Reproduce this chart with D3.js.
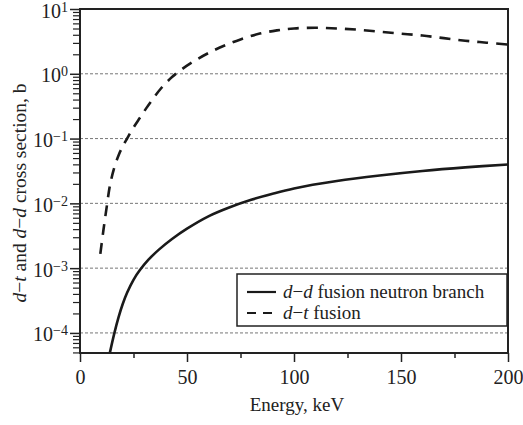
<!DOCTYPE html>
<html>
<head>
<meta charset="utf-8">
<script src="https://cdn.jsdelivr.net/npm/d3@7"></script>
<style>
  body { margin: 0; background: #fff; }
  text { font-family: "Liberation Serif", "DejaVu Serif", serif; fill: #222; }
</style>
</head>
<body>
<script>
'use strict';

// d-d fusion neutron branch (energy keV, cross section b)
const ddEnergy = [14, 16, 18, 20, 22, 25, 28, 32, 37, 43, 50, 60, 70, 80, 90, 100, 120, 140, 160, 180, 200];
const ddSigma  = [5.01e-5, 9.77e-5, 1.74e-4, 2.82e-4, 4.17e-4, 6.61e-4, 9.33e-4, 1.35e-3, 1.95e-3, 2.82e-3, 4.07e-3, 6.31e-3, 8.71e-3, 0.01135, 0.0141, 0.017, 0.0221, 0.0269, 0.0316, 0.0359, 0.0398];

// d-t fusion
const dtEnergy = [9.5, 11, 12.5, 14, 16, 18, 20, 22, 25, 28, 31, 34, 38, 43, 48, 54, 60, 67, 75, 84, 92, 100, 110, 120, 130, 140, 150, 160, 170, 180, 190, 200];
const dtSigma  = [1.66e-3, 3.98e-3, 8.9e-3, 0.019, 0.0355, 0.055, 0.076, 0.1, 0.148, 0.209, 0.295, 0.407, 0.603, 0.891, 1.2, 1.62, 2.09, 2.69, 3.39, 4.17, 4.68, 5.01, 5.13, 5.01, 4.79, 4.47, 4.17, 3.89, 3.55, 3.24, 3.02, 2.82];

const xTicks = [0, 50, 100, 150, 200];
const xMinorTicks = [25, 75, 125, 175];
const yDecades = [-4, -3, -2, -1, 0, 1];

const width = 523, height = 425;
const plot = {left: 80, right: 508, top: 9, bottom: 353};

const svg = d3.select('body').append('svg')
    .attr('width', width)
    .attr('height', height);

const x = d3.scaleLinear().domain([0, 200]).range([plot.left, plot.right]);
const y = d3.scaleLog().domain([4.9e-5, 10]).range([plot.bottom, plot.top]);

// grid lines at decades
svg.append('g')
    .selectAll('line')
    .data(yDecades.filter(d => d < 1))
    .enter()
    .append('line')
    .attr('x1', plot.left)
    .attr('x2', plot.right)
    .attr('y1', d => y(Math.pow(10, d)))
    .attr('y2', d => y(Math.pow(10, d)))
    .attr('stroke', '#777')
    .attr('stroke-width', 1)
    .attr('stroke-dasharray', '3,2');

// y minor ticks
let yMinor = [];
for (let e = -5; e <= 0; e++) {
    for (let m = 2; m <= 9; m++) {
        let v = m * Math.pow(10, e);
        if (v >= 4.9e-5 && v <= 10) yMinor.push(v);
    }
}
svg.append('g')
    .attr('transform', 'translate(' + plot.left + ',0)')
    .call(d3.axisLeft(y).tickValues(yMinor).tickSize(7).tickFormat(''))
    .call(g => g.select('.domain').remove())
    .call(g => g.selectAll('line').attr('stroke', '#222').attr('stroke-width', 1.2));

// y major ticks with superscript labels
const yAxis = svg.append('g')
    .attr('transform', 'translate(' + plot.left + ',0)')
    .call(d3.axisLeft(y).tickValues(yDecades.map(d => Math.pow(10, d))).tickSize(10).tickFormat(''))
    .call(g => g.select('.domain').remove())
    .call(g => g.selectAll('line').attr('stroke', '#222').attr('stroke-width', 1.5));

yAxis.selectAll('.tick').each(function(d) {
    const p = Math.round(Math.log10(d));
    const t = d3.select(this).append('text')
        .attr('x', -12)
        .attr('y', 8)
        .attr('text-anchor', 'end')
        .style('font-size', '20px');
    t.append('tspan').text('10');
    t.append('tspan')
        .attr('dy', -6)
        .style('font-size', '14px')
        .text(p < 0 ? '\u2212' + Math.abs(p) : p);
});

// x axis
svg.append('g')
    .attr('transform', 'translate(0,' + plot.bottom + ')')
    .call(d3.axisBottom(x).tickValues(xMinorTicks).tickSize(5).tickFormat(''))
    .call(g => g.select('.domain').remove())
    .call(g => g.selectAll('line').attr('stroke', '#222').attr('stroke-width', 1.5));

svg.append('g')
    .attr('transform', 'translate(0,' + plot.bottom + ')')
    .call(d3.axisBottom(x).tickValues(xTicks).tickSize(9).tickPadding(8))
    .call(g => g.select('.domain').remove())
    .call(g => g.selectAll('line').attr('stroke', '#222').attr('stroke-width', 1.5))
    .call(g => g.selectAll('text').style('font-size', '20px'));

// frame
svg.append('rect')
    .attr('x', plot.left)
    .attr('y', plot.top)
    .attr('width', plot.right - plot.left)
    .attr('height', plot.bottom - plot.top)
    .attr('fill', 'none')
    .attr('stroke', '#222')
    .attr('stroke-width', 2);

// curves
const line = d3.line()
    .x(d => x(d[0]))
    .y(d => y(d[1]))
    .curve(d3.curveCatmullRom.alpha(0.5));

svg.append('path')
    .datum(ddEnergy.map((e, i) => [e, ddSigma[i]]))
    .attr('d', line)
    .attr('fill', 'none')
    .attr('stroke', '#1a1a1a')
    .attr('stroke-width', 2.6);

svg.append('path')
    .datum(dtEnergy.map((e, i) => [e, dtSigma[i]]))
    .attr('d', line)
    .attr('fill', 'none')
    .attr('stroke', '#1a1a1a')
    .attr('stroke-width', 2.6)
    .attr('stroke-dasharray', '11,8');

// legend
const legend = svg.append('g');
legend.append('rect')
    .attr('x', 237)
    .attr('y', 274)
    .attr('width', 270)
    .attr('height', 52)
    .attr('fill', '#fff')
    .attr('stroke', '#222')
    .attr('stroke-width', 1.5);

const entries = [
    {dash: null, label: 'd\u2212d fusion neutron branch'},
    {dash: '9,7', label: 'd\u2212t fusion'}
];
entries.forEach((en, i) => {
    const ly = 292 + i * 21;
    legend.append('line')
        .attr('x1', 247).attr('x2', 276)
        .attr('y1', ly).attr('y2', ly)
        .attr('stroke', '#1a1a1a')
        .attr('stroke-width', 2.2)
        .attr('stroke-dasharray', en.dash);
    // one text per entry; the two reactant letters are set in italics
    const t = legend.append('text')
        .attr('x', 283)
        .attr('y', ly + 6)
        .style('font-size', '19px');
    t.append('tspan').style('font-style', 'italic').text(en.label[0]);
    t.append('tspan').text(en.label[1]);
    t.append('tspan').style('font-style', 'italic').text(en.label[2]);
    t.append('tspan').text(en.label.slice(3));
});

// axis labels
svg.append('text')
    .attr('x', 297)
    .attr('y', 411)
    .attr('text-anchor', 'middle')
    .style('font-size', '19px')
    .text('Energy, keV');

const yl = svg.append('text')
    .attr('transform', 'translate(26,193)rotate(-90)')
    .attr('text-anchor', 'middle')
    .style('font-size', '19.5px');
[['d', true], ['\u2212', false], ['t', true], [' and ', false], ['d', true], ['\u2212', false], ['d', true], [' cross section, b', false]]
    .forEach(p => {
        yl.append('tspan').style('font-style', p[1] ? 'italic' : 'normal').text(p[0]);
    });
</script>
</body>
</html>
